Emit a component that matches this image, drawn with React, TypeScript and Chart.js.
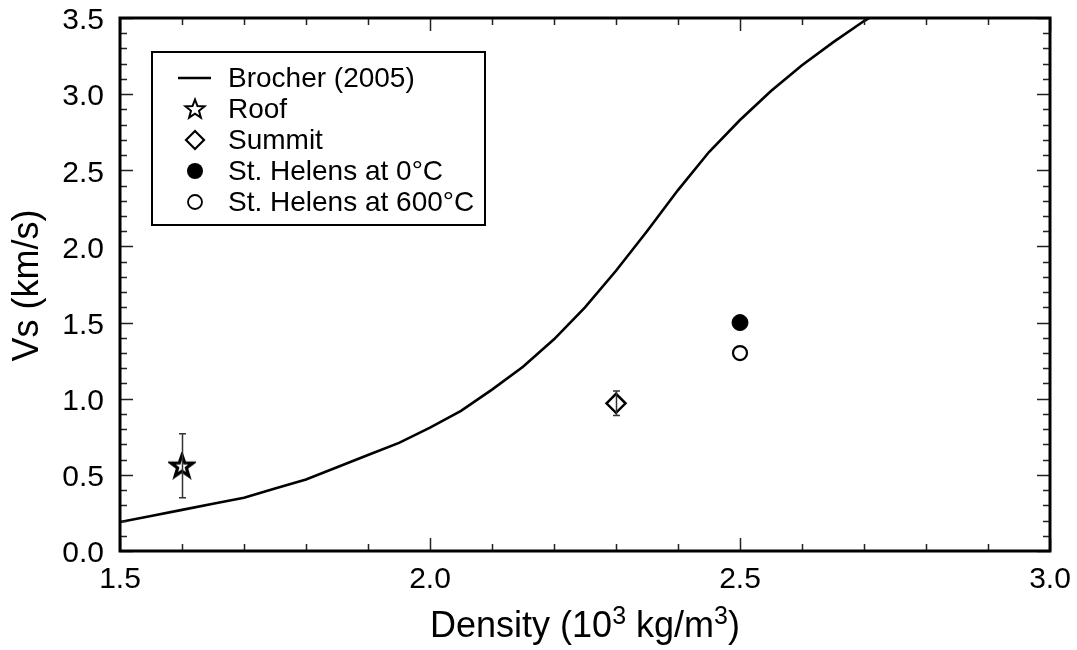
import React, { useEffect, useRef } from "react";
import { Chart, registerables } from "chart.js";

Chart.register(...registerables);

// ---------- data ----------
const brocherDensity = [1.5, 1.55, 1.6, 1.65, 1.7, 1.75, 1.8, 1.85, 1.9, 1.95, 2.0, 2.05, 2.1, 2.15, 2.2, 2.25, 2.3, 2.35, 2.4, 2.45, 2.5, 2.55, 2.6, 2.65, 2.7, 2.75];
const brocherVs = [0.19, 0.23, 0.27, 0.31, 0.35, 0.41, 0.47, 0.55, 0.63, 0.71, 0.81, 0.92, 1.06, 1.21, 1.39, 1.6, 1.84, 2.1, 2.37, 2.62, 2.83, 3.02, 3.19, 3.34, 3.48, 3.6];

const roofDensity = [1.6];
const roofVs = [0.56];
const roofErrLow = [0.35];
const roofErrHigh = [0.77];

const summitDensity = [2.3];
const summitVs = [0.97];
const summitErrLow = [0.89];
const summitErrHigh = [1.05];

const helens0Density = [2.5];
const helens0Vs = [1.5];

const helens600Density = [2.5];
const helens600Vs = [1.3];

const seriesLabels = ["Brocher (2005)", "Roof", "Summit", "St. Helens at 0°C", "St. Helens at 600°C"];

const xMin = 1.5, xMax = 3.0, xMajor = 0.5, xMinor = 0.1;
const yMin = 0.0, yMax = 3.5, yMajor = 0.5, yMinor = 0.1;

const xTitleParts = [
  { t: "Density (10", sup: false },
  { t: "3", sup: true },
  { t: " kg/m", sup: false },
  { t: "3", sup: true },
  { t: ")", sup: false },
];
const yTitle = "Vs (km/s)";

const FONT = "'Liberation Sans', Arial, Helvetica, sans-serif";

function toXY(xs: number[], ys: number[]) {
  return xs.map((x, i) => ({ x, y: ys[i] }));
}

function starPath(ctx: CanvasRenderingContext2D, cx: number, cy: number, R: number, r: number) {
  ctx.beginPath();
  for (let i = 0; i < 10; i++) {
    const rad = i % 2 === 0 ? R : r;
    const a = -Math.PI / 2 + (i * Math.PI) / 5;
    const px = cx + rad * Math.cos(a);
    const py = cy + rad * Math.sin(a);
    if (i === 0) ctx.moveTo(px, py);
    else ctx.lineTo(px, py);
  }
  ctx.closePath();
}

function makeStar(): HTMLCanvasElement {
  const c = document.createElement("canvas");
  c.width = 28;
  c.height = 28;
  const ctx = c.getContext("2d")!;
  starPath(ctx, 14, 14.8, 11.5, 4.6);
  ctx.fillStyle = "#fff";
  ctx.fill();
  ctx.lineWidth = 3.2;
  ctx.lineJoin = "miter";
  ctx.strokeStyle = "#000";
  ctx.stroke();
  return c;
}

const framePlugin = {
  id: "framePlugin",
  afterDatasetsDraw(chart: any) {
    const ctx = chart.ctx as CanvasRenderingContext2D;
    const xs = chart.scales.x;
    const ys = chart.scales.y;
    chart.data.datasets.forEach((ds: any) => {
      if (!ds.errLow) return;
      ds.data.forEach((p: any, i: number) => {
        const px = Math.round(xs.getPixelForValue(p.x)) + 0.5;
        const y1 = ys.getPixelForValue(ds.errLow[i]);
        const y2 = ys.getPixelForValue(ds.errHigh[i]);
        ctx.save();
        ctx.strokeStyle = "#333";
        ctx.lineWidth = 1.5;
        ctx.beginPath();
        ctx.moveTo(px, y1);
        ctx.lineTo(px, y2);
        ctx.moveTo(px - 3.5, y1);
        ctx.lineTo(px + 3.5, y1);
        ctx.moveTo(px - 3.5, y2);
        ctx.lineTo(px + 3.5, y2);
        ctx.stroke();
        ctx.restore();
      });
    });
  },
  afterDraw(chart: any) {
    const ctx = chart.ctx as CanvasRenderingContext2D;
    const a = chart.chartArea;
    const xs = chart.scales.x;
    const ys = chart.scales.y;
    ctx.save();
    ctx.strokeStyle = "#222";
    ctx.lineWidth = 1.5;
    ctx.beginPath();
    const nx = Math.round((xMax - xMin) / xMinor);
    for (let i = 0; i <= nx; i++) {
      const v = xMin + i * xMinor;
      const major = Math.abs(v / xMajor - Math.round(v / xMajor)) < 1e-6;
      const len = major ? 13 : 7;
      const px = Math.round(xs.getPixelForValue(v)) + 0.5;
      ctx.moveTo(px, a.bottom);
      ctx.lineTo(px, a.bottom - len);
      ctx.moveTo(px, a.top);
      ctx.lineTo(px, a.top + len);
    }
    const ny = Math.round((yMax - yMin) / yMinor);
    for (let i = 0; i <= ny; i++) {
      const v = yMin + i * yMinor;
      const major = Math.abs(v / yMajor - Math.round(v / yMajor)) < 1e-6;
      const len = major ? 13 : 7;
      const py = Math.round(ys.getPixelForValue(v)) + 0.5;
      ctx.moveTo(a.left, py);
      ctx.lineTo(a.left + len, py);
      ctx.moveTo(a.right, py);
      ctx.lineTo(a.right - len, py);
    }
    ctx.stroke();

    ctx.strokeStyle = "#000";
    ctx.lineWidth = 3;
    ctx.strokeRect(a.left, a.top, a.right - a.left, a.bottom - a.top);

    // legend
    const lx = 152, ly = 52, lw = 333, lh = 173;
    ctx.fillStyle = "#fff";
    ctx.fillRect(lx, ly, lw, lh);
    ctx.strokeStyle = "#000";
    ctx.lineWidth = 2;
    ctx.strokeRect(lx, ly, lw, lh);
    const rows = [78, 109, 140, 171, 202];
    const symX = 195;
    const textX = 228;
    ctx.textBaseline = "middle";
    ctx.textAlign = "left";
    const labels = chart.data.datasets.map((d: any) => d.label);
    labels.forEach((lab: string, i: number) => {
      const y = rows[i];
      if (i === 0) {
        ctx.strokeStyle = "#000";
        ctx.lineWidth = 2.5;
        ctx.beginPath();
        ctx.moveTo(178, y);
        ctx.lineTo(211, y);
        ctx.stroke();
      } else if (i === 1) {
        starPath(ctx, symX, y + 0.5, 10, 4.2);
        ctx.fillStyle = "#fff";
        ctx.fill();
        ctx.lineWidth = 2;
        ctx.strokeStyle = "#000";
        ctx.stroke();
      } else if (i === 2) {
        ctx.beginPath();
        ctx.moveTo(symX - 9, y);
        ctx.lineTo(symX, y - 9);
        ctx.lineTo(symX + 9, y);
        ctx.lineTo(symX, y + 9);
        ctx.closePath();
        ctx.fillStyle = "#fff";
        ctx.fill();
        ctx.lineWidth = 2.2;
        ctx.strokeStyle = "#000";
        ctx.stroke();
      } else if (i === 3) {
        ctx.beginPath();
        ctx.arc(symX, y, 8, 0, Math.PI * 2);
        ctx.fillStyle = "#000";
        ctx.fill();
      } else {
        ctx.beginPath();
        ctx.arc(symX, y, 7, 0, Math.PI * 2);
        ctx.fillStyle = "#fff";
        ctx.fill();
        ctx.lineWidth = 1.8;
        ctx.strokeStyle = "#000";
        ctx.stroke();
      }
      ctx.fillStyle = "#000";
      ctx.font = `28px ${FONT}`;
      ctx.fillText(lab, textX, y + 1);
    });

    // x title with superscripts
    const big = `36px ${FONT}`;
    const small = `25px ${FONT}`;
    let total = 0;
    xTitleParts.forEach((p) => {
      ctx.font = p.sup ? small : big;
      total += ctx.measureText(p.t).width;
    });
    let cx = (a.left + a.right) / 2 - total / 2;
    const base = 637;
    ctx.textBaseline = "alphabetic";
    ctx.fillStyle = "#000";
    xTitleParts.forEach((p) => {
      ctx.font = p.sup ? small : big;
      ctx.fillText(p.t, cx, p.sup ? base - 13 : base);
      cx += ctx.measureText(p.t).width;
    });

    // y title
    ctx.save();
    ctx.translate(28, (a.top + a.bottom) / 2 + 1);
    ctx.rotate(-Math.PI / 2);
    ctx.font = big;
    ctx.textAlign = "center";
    ctx.textBaseline = "middle";
    ctx.fillText(yTitle, 0, 0);
    ctx.restore();

    ctx.restore();
  },
};

export default function App() {
  const ref = useRef<HTMLCanvasElement | null>(null);
  useEffect(() => {
    if (!ref.current) return;
    const star = makeStar();
    const chart = new Chart(ref.current, {
      type: "scatter",
      data: {
        datasets: [
          {
            label: seriesLabels[0],
            data: toXY(brocherDensity, brocherVs),
            showLine: true,
            borderColor: "#000",
            borderWidth: 2.6,
            pointRadius: 0,
            tension: 0,
            order: 5,
          } as any,
          {
            label: seriesLabels[1],
            data: toXY(roofDensity, roofVs),
            pointStyle: star,
            pointRadius: 11,
            errLow: roofErrLow,
            errHigh: roofErrHigh,
          } as any,
          {
            label: seriesLabels[2],
            data: toXY(summitDensity, summitVs),
            pointStyle: "rectRot",
            pointRadius: 9.5,
            backgroundColor: "#fff",
            borderColor: "#000",
            borderWidth: 2.5,
            errLow: summitErrLow,
            errHigh: summitErrHigh,
          } as any,
          {
            label: seriesLabels[3],
            data: toXY(helens0Density, helens0Vs),
            pointStyle: "circle",
            pointRadius: 8,
            backgroundColor: "#000",
            borderColor: "#000",
            borderWidth: 1,
          } as any,
          {
            label: seriesLabels[4],
            data: toXY(helens600Density, helens600Vs),
            pointStyle: "circle",
            pointRadius: 7,
            backgroundColor: "#fff",
            borderColor: "#000",
            borderWidth: 2.2,
          } as any,
        ],
      },
      options: {
        animation: false,
        responsive: false,
        maintainAspectRatio: false,
        layout: { padding: { top: 18, right: 27, left: 0, bottom: 0 } },
        plugins: {
          legend: { display: false },
          tooltip: { enabled: false },
          title: { display: false },
        },
        scales: {
          x: {
            type: "linear",
            min: xMin,
            max: xMax,
            grid: { display: false, drawTicks: false },
            border: { display: false },
            ticks: {
              stepSize: xMajor,
              padding: 11,
              color: "#000",
              font: { family: FONT, size: 30 },
              maxRotation: 0,
              autoSkip: false,
              callback: (v: any) => Number(v).toFixed(1),
            },
            afterFit: (s: any) => {
              s.height = 99;
              s.paddingLeft = 0;
              s.paddingRight = 0;
            },
          },
          y: {
            type: "linear",
            min: yMin,
            max: yMax,
            grid: { display: false, drawTicks: false },
            border: { display: false },
            ticks: {
              stepSize: yMajor,
              padding: 16,
              labelOffset: 3,
              color: "#000",
              font: { family: FONT, size: 30 },
              autoSkip: false,
              callback: (v: any) => Number(v).toFixed(1),
            },
            afterFit: (s: any) => {
              s.width = 120;
              s.paddingTop = 0;
              s.paddingBottom = 0;
            },
          },
        },
      },
      plugins: [framePlugin],
    } as any);
    return () => chart.destroy();
  }, []);
  return (
    <div style={{ position: "fixed", left: 0, top: 0, width: 1077, height: 650, background: "#fff" }}>
      <canvas ref={ref} width={1077} height={650} style={{ width: 1077, height: 650, display: "block" }} />
    </div>
  );
}
